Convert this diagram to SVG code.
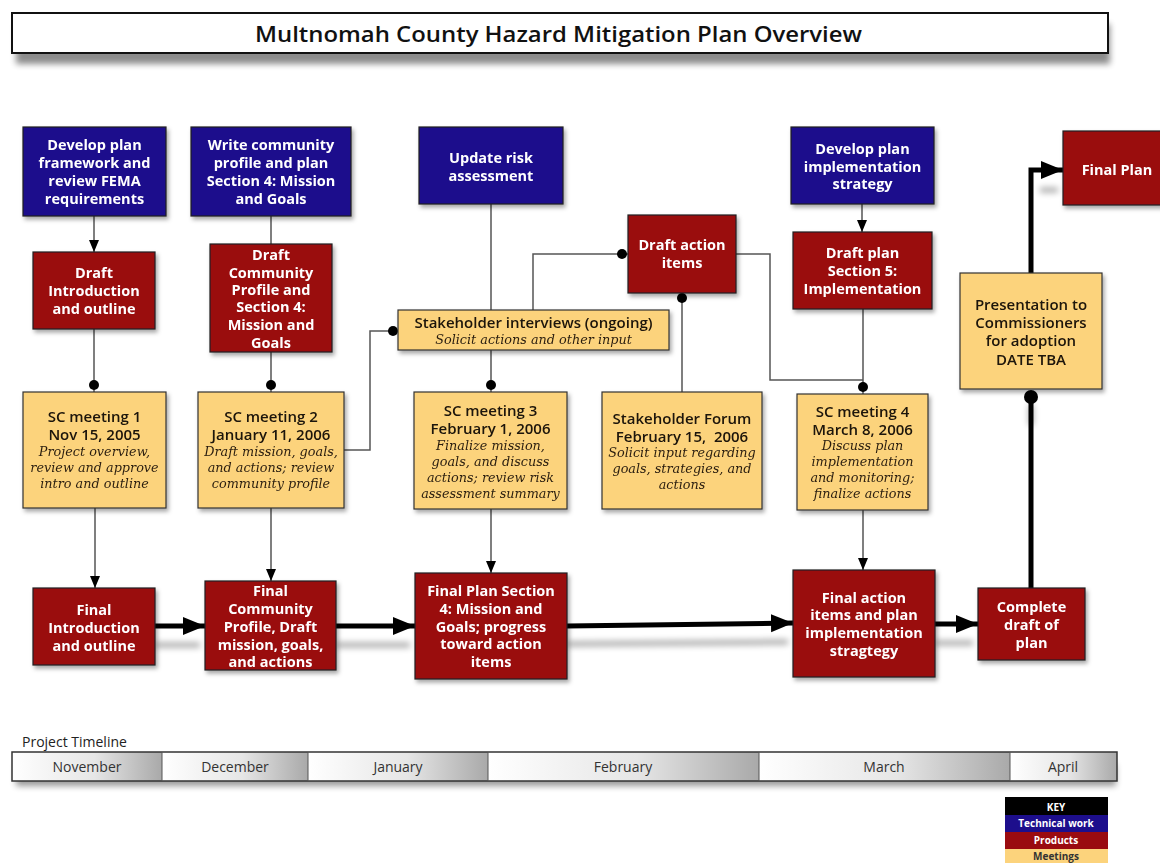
<svg xmlns="http://www.w3.org/2000/svg" width="1160" height="863" viewBox="0 0 1160 863">
  <defs>
    <style>
      .tech { fill: #1d0e8c; stroke: #222; stroke-width: 1.2; }
      .prod { fill: #9a0b10; stroke: #222; stroke-width: 1.2; }
      .meet { fill: #fcd37c; stroke: #333; stroke-width: 1.2; }
      .wt { font-family: "Open Sans", "DejaVu Sans", sans-serif; font-weight: bold; font-size: 14.5px; fill: #ffffff; text-anchor: middle; }
      .mt { font-family: "Open Sans", "DejaVu Sans", sans-serif; font-weight: 600; font-size: 15px; fill: #1a1208; text-anchor: middle; }
      .it { font-family: "DejaVu Serif", serif; font-style: italic; font-size: 12.8px; fill: #2a1e10; text-anchor: middle; }
      .thin { fill: none; stroke: #555; stroke-width: 1.5; }
      .thick { fill: none; stroke: #000; stroke-width: 5; }
      .tl { font-family: "Open Sans", "DejaVu Sans", sans-serif; font-size: 14px; fill: #333; text-anchor: middle; }
      .key { font-family: "Open Sans", "DejaVu Sans", sans-serif; font-weight: bold; font-size: 10px; text-anchor: middle; }
    </style>
    <filter id="shadow" x="-20%" y="-20%" width="140%" height="150%">
      <feDropShadow dx="2" dy="3" stdDeviation="2" flood-color="#000" flood-opacity="0.35"/>
    </filter>
    <filter id="blur" x="-20%" y="-200%" width="140%" height="500%">
      <feGaussianBlur stdDeviation="3"/>
    </filter>
    <marker id="ah" markerUnits="userSpaceOnUse" markerWidth="12" markerHeight="12" viewBox="0 0 12 12" refX="12" refY="6" orient="auto">
      <path d="M0,1 L12,6 L0,11 Z" fill="#000"/>
    </marker>
    <marker id="big" markerUnits="userSpaceOnUse" markerWidth="22" markerHeight="20" viewBox="0 0 22 20" refX="22" refY="10" orient="auto">
      <path d="M0,1 L22,10 L0,19 Z" fill="#000"/>
    </marker>
    <linearGradient id="seg" x1="0" y1="0" x2="1" y2="0">
      <stop offset="0" stop-color="#ffffff"/>
      <stop offset="0.55" stop-color="#e6e6e6"/>
      <stop offset="1" stop-color="#a9a9a9"/>
    </linearGradient>
  </defs>

  <rect width="1160" height="863" fill="#ffffff"/>

  <!-- title banner -->
  <g id="title">
    <rect x="16" y="24" width="1094" height="40" fill="#000" opacity="0.45" filter="url(#blur)"/>
    <rect x="12" y="13" width="1096" height="40" fill="#ffffff" stroke="#111" stroke-width="2"/>
    <text x="255" y="42" font-family="Open Sans, DejaVu Sans, sans-serif" font-weight="600" font-size="21" fill="#111" textLength="607" lengthAdjust="spacingAndGlyphs">Multnomah County Hazard Mitigation Plan Overview</text>
  </g>

  <!-- connectors -->
  <g id="connectors">
    <!-- shadows of the main product flow -->
    <g stroke="#000" stroke-width="5" opacity="0.35" filter="url(#blur)" fill="none">
      <line x1="155" y1="645" x2="200" y2="645"/>
      <line x1="336" y1="645" x2="410" y2="645"/>
      <line x1="567" y1="644" x2="788" y2="642"/>
      <line x1="935" y1="643" x2="973" y2="643"/>
      <line x1="1040" y1="190" x2="1058" y2="190"/>
      <line x1="1031" y1="405" x2="1031" y2="425"/>
    </g>

    <line class="thin" x1="94" y1="216" x2="94" y2="252" marker-end="url(#ah)"/>
    <line class="thin" x1="271" y1="216" x2="271" y2="244"/>
    <line class="thin" x1="94" y1="329" x2="94" y2="392"/>
    <circle cx="94" cy="385" r="5" fill="#000"/>
    <line class="thin" x1="271" y1="352" x2="271" y2="392"/>
    <circle cx="271" cy="385" r="5" fill="#000"/>
    <line class="thin" x1="95" y1="508" x2="95" y2="588" marker-end="url(#ah)"/>
    <line class="thin" x1="271" y1="508" x2="271" y2="581" marker-end="url(#ah)"/>
    <polyline class="thin" points="344,450 370,450 370,331 398,331"/>
    <circle cx="393" cy="331" r="5" fill="#000"/>
    <line class="thin" x1="491" y1="204" x2="491" y2="392"/>
    <circle cx="491" cy="385" r="5" fill="#000"/>
    <polyline class="thin" points="533,310 533,254 628,254"/>
    <circle cx="622" cy="254" r="5" fill="#000"/>
    <line class="thin" x1="682" y1="293" x2="682" y2="392"/>
    <circle cx="682" cy="298" r="5" fill="#000"/>
    <polyline class="thin" points="736,254 770,254 770,380 863,380"/>
    <line class="thin" x1="862" y1="204" x2="862" y2="232" marker-end="url(#ah)"/>
    <line class="thin" x1="863" y1="309" x2="863" y2="394"/>
    <circle cx="863" cy="387" r="5" fill="#000"/>
    <line class="thin" x1="491" y1="509" x2="491" y2="573" marker-end="url(#ah)"/>
    <line class="thin" x1="863" y1="510" x2="863" y2="570" marker-end="url(#ah)"/>

    <!-- main product flow -->
    <line class="thick" x1="155" y1="626" x2="205" y2="626" marker-end="url(#big)"/>
    <line class="thick" x1="336" y1="626" x2="415" y2="626" marker-end="url(#big)"/>
    <line class="thick" x1="567" y1="626" x2="793" y2="623" marker-end="url(#big)"/>
    <line class="thick" x1="935" y1="624" x2="978" y2="624" marker-end="url(#big)"/>
    <line class="thick" x1="1031" y1="588" x2="1031" y2="397"/>
    <circle cx="1031" cy="397" r="7" fill="#000"/>
    <polyline class="thick" points="1031,273 1031,170 1063,170" marker-end="url(#big)"/>
  </g>

  <!-- technical work -->
  <g id="n-framework" filter="url(#shadow)">
    <rect class="tech" x="23" y="127" width="143" height="89"/>
    <text class="wt" x="94.5" y="150">Develop plan</text>
    <text class="wt" x="94.5" y="168">framework and</text>
    <text class="wt" x="94.5" y="186">review FEMA</text>
    <text class="wt" x="94.5" y="204">requirements</text>
  </g>
  <g id="n-profile" filter="url(#shadow)">
    <rect class="tech" x="191" y="127" width="160" height="89"/>
    <text class="wt" x="271" y="150">Write community</text>
    <text class="wt" x="271" y="168">profile and plan</text>
    <text class="wt" x="271" y="186">Section 4: Mission</text>
    <text class="wt" x="271" y="204">and Goals</text>
  </g>
  <g id="n-risk" filter="url(#shadow)">
    <rect class="tech" x="419" y="127" width="144" height="77"/>
    <text class="wt" x="491" y="163">Update risk</text>
    <text class="wt" x="491" y="181">assessment</text>
  </g>
  <g id="n-strategy" filter="url(#shadow)">
    <rect class="tech" x="791" y="127" width="143" height="77"/>
    <text class="wt" x="862.5" y="154">Develop plan</text>
    <text class="wt" x="862.5" y="172">implementation</text>
    <text class="wt" x="862.5" y="189">strategy</text>
  </g>

  <!-- products -->
  <g id="n-draft-intro" filter="url(#shadow)">
    <rect class="prod" x="33" y="252" width="122" height="77"/>
    <text class="wt" x="94" y="278">Draft</text>
    <text class="wt" x="94" y="296">Introduction</text>
    <text class="wt" x="94" y="314">and outline</text>
  </g>
  <g id="n-draft-profile" filter="url(#shadow)">
    <rect class="prod" x="210" y="244" width="122" height="108"/>
    <text class="wt" x="271" y="260">Draft</text>
    <text class="wt" x="271" y="278">Community</text>
    <text class="wt" x="271" y="295">Profile and</text>
    <text class="wt" x="271" y="312">Section 4:</text>
    <text class="wt" x="271" y="330">Mission and</text>
    <text class="wt" x="271" y="348">Goals</text>
  </g>
  <g id="n-draft-actions" filter="url(#shadow)">
    <rect class="prod" x="628" y="215" width="108" height="78"/>
    <text class="wt" x="682" y="250">Draft action</text>
    <text class="wt" x="682" y="268">items</text>
  </g>
  <g id="n-draft-section5" filter="url(#shadow)">
    <rect class="prod" x="793" y="232" width="139" height="77"/>
    <text class="wt" x="862.5" y="258">Draft plan</text>
    <text class="wt" x="862.5" y="276">Section 5:</text>
    <text class="wt" x="862.5" y="294">Implementation</text>
  </g>
  <g id="n-final-plan" filter="url(#shadow)">
    <rect class="prod" x="1063" y="131" width="100" height="74"/>
    <text class="wt" x="1117" y="175">Final Plan</text>
  </g>
  <g id="n-final-intro" filter="url(#shadow)">
    <rect class="prod" x="33" y="588" width="122" height="77"/>
    <text class="wt" x="94" y="615">Final</text>
    <text class="wt" x="94" y="633">Introduction</text>
    <text class="wt" x="94" y="651">and outline</text>
  </g>
  <g id="n-final-profile" filter="url(#shadow)">
    <rect class="prod" x="205" y="581" width="131" height="89"/>
    <text class="wt" x="270.5" y="596">Final</text>
    <text class="wt" x="270.5" y="614">Community</text>
    <text class="wt" x="270.5" y="632">Profile, Draft</text>
    <text class="wt" x="270.5" y="650">mission, goals,</text>
    <text class="wt" x="270.5" y="667">and actions</text>
  </g>
  <g id="n-final-section4" filter="url(#shadow)">
    <rect class="prod" x="415" y="573" width="152" height="106"/>
    <text class="wt" x="491" y="596">Final Plan Section</text>
    <text class="wt" x="491" y="614">4: Mission and</text>
    <text class="wt" x="491" y="632">Goals; progress</text>
    <text class="wt" x="491" y="649">toward action</text>
    <text class="wt" x="491" y="667">items</text>
  </g>
  <g id="n-final-actions" filter="url(#shadow)">
    <rect class="prod" x="793" y="570" width="142" height="107"/>
    <text class="wt" x="864" y="603">Final action</text>
    <text class="wt" x="864" y="620">items and plan</text>
    <text class="wt" x="864" y="638">implementation</text>
    <text class="wt" x="864" y="656">stragtegy</text>
  </g>
  <g id="n-complete-draft" filter="url(#shadow)">
    <rect class="prod" x="978" y="588" width="107" height="72"/>
    <text class="wt" x="1031.5" y="612">Complete</text>
    <text class="wt" x="1031.5" y="630">draft of</text>
    <text class="wt" x="1031.5" y="648">plan</text>
  </g>

  <!-- meetings -->
  <g id="n-interviews" filter="url(#shadow)">
    <rect class="meet" x="398" y="310" width="271" height="40"/>
    <text class="mt" x="533.5" y="328">Stakeholder interviews (ongoing)</text>
    <text class="it" x="533.5" y="344">Solicit actions and other input</text>
  </g>
  <g id="n-sc1" filter="url(#shadow)">
    <rect class="meet" x="23" y="392" width="143" height="116"/>
    <text class="mt" x="94.5" y="422">SC meeting 1</text>
    <text class="mt" x="94.5" y="440">Nov 15, 2005</text>
    <text class="it" x="94.5" y="456">Project overview,</text>
    <text class="it" x="94.5" y="472">review and approve</text>
    <text class="it" x="94.5" y="488">intro and outline</text>
  </g>
  <g id="n-sc2" filter="url(#shadow)">
    <rect class="meet" x="198" y="392" width="146" height="116"/>
    <text class="mt" x="271" y="422">SC meeting 2</text>
    <text class="mt" x="271" y="440">January 11, 2006</text>
    <text class="it" x="271" y="456">Draft mission, goals,</text>
    <text class="it" x="271" y="472">and actions; review</text>
    <text class="it" x="271" y="488">community profile</text>
  </g>
  <g id="n-sc3" filter="url(#shadow)">
    <rect class="meet" x="414" y="392" width="153" height="117"/>
    <text class="mt" x="490.5" y="416">SC meeting 3</text>
    <text class="mt" x="490.5" y="434">February 1, 2006</text>
    <text class="it" x="490.5" y="450">Finalize mission,</text>
    <text class="it" x="490.5" y="466">goals, and discuss</text>
    <text class="it" x="490.5" y="482">actions; review risk</text>
    <text class="it" x="490.5" y="498">assessment summary</text>
  </g>
  <g id="n-forum" filter="url(#shadow)">
    <rect class="meet" x="602" y="392" width="160" height="117"/>
    <text class="mt" x="682" y="424">Stakeholder Forum</text>
    <text class="mt" x="682" y="442" xml:space="preserve">February 15,  2006</text>
    <text class="it" x="682" y="457">Solicit input regarding</text>
    <text class="it" x="682" y="473">goals, strategies, and</text>
    <text class="it" x="682" y="489">actions</text>
  </g>
  <g id="n-sc4" filter="url(#shadow)">
    <rect class="meet" x="797" y="394" width="131" height="116"/>
    <text class="mt" x="862.5" y="417">SC meeting 4</text>
    <text class="mt" x="862.5" y="435">March 8, 2006</text>
    <text class="it" x="862.5" y="450">Discuss plan</text>
    <text class="it" x="862.5" y="466">implementation</text>
    <text class="it" x="862.5" y="482">and monitoring;</text>
    <text class="it" x="862.5" y="498">finalize actions</text>
  </g>
  <g id="n-presentation" filter="url(#shadow)">
    <rect class="meet" x="960" y="273" width="142" height="116"/>
    <text class="mt" x="1031" y="310" font-size="14.5">Presentation to</text>
    <text class="mt" x="1031" y="328" font-size="14.5">Commissioners</text>
    <text class="mt" x="1031" y="346" font-size="14.5">for adoption</text>
    <text class="mt" x="1031" y="365" font-size="14.5">DATE TBA</text>
  </g>

  <!-- project timeline -->
  <g id="timeline">
    <text x="22" y="747" font-family="Open Sans, DejaVu Sans, sans-serif" font-size="14" fill="#222">Project Timeline</text>
    <rect x="16" y="764" width="1100" height="22" fill="#000" opacity="0.4" filter="url(#blur)"/>
    <rect x="12" y="752" width="150" height="29" fill="url(#seg)"/>
    <rect x="162" y="752" width="146" height="29" fill="url(#seg)"/>
    <rect x="308" y="752" width="180" height="29" fill="url(#seg)"/>
    <rect x="488" y="752" width="271" height="29" fill="url(#seg)"/>
    <rect x="759" y="752" width="251" height="29" fill="url(#seg)"/>
    <rect x="1010" y="752" width="107" height="29" fill="url(#seg)"/>
    <rect x="12" y="752" width="1105" height="29" fill="none" stroke="#333" stroke-width="1.5"/>
    <g stroke="#555" stroke-width="1">
      <line x1="162" y1="752" x2="162" y2="781"/>
      <line x1="308" y1="752" x2="308" y2="781"/>
      <line x1="488" y1="752" x2="488" y2="781"/>
      <line x1="759" y1="752" x2="759" y2="781"/>
      <line x1="1010" y1="752" x2="1010" y2="781"/>
    </g>
    <text class="tl" x="87" y="772">November</text>
    <text class="tl" x="235" y="772">December</text>
    <text class="tl" x="398" y="772">January</text>
    <text class="tl" x="623" y="772">February</text>
    <text class="tl" x="884" y="772">March</text>
    <text class="tl" x="1063" y="772">April</text>
  </g>

  <!-- colour key -->
  <g id="key">
    <rect x="1005" y="797" width="103" height="18" fill="#000"/>
    <rect x="1005" y="815" width="103" height="17" fill="#1d0e8c"/>
    <rect x="1005" y="832" width="103" height="17" fill="#9a0b10"/>
    <rect x="1005" y="849" width="103" height="14" fill="#fcd37c"/>
    <text class="key" x="1056" y="811" font-size="12" fill="#fff">KEY</text>
    <text class="key" x="1056" y="827" fill="#fff">Technical work</text>
    <text class="key" x="1056" y="844" fill="#fff">Products</text>
    <text class="key" x="1056" y="860" fill="#333">Meetings</text>
  </g>
</svg>
